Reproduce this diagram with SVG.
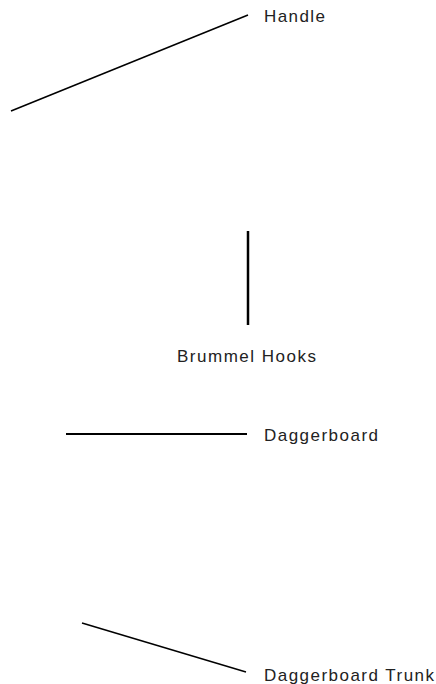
<svg xmlns="http://www.w3.org/2000/svg" width="436" height="684" viewBox="0 0 436 684">
<style>
text{font-family:"Liberation Sans",Arial,sans-serif;font-size:17px;fill:#222}
line{stroke:#000}
</style>
<rect width="436" height="684" fill="#fff"/>
<g id="connectors">
<line x1="11" y1="111" x2="248" y2="15" stroke-width="1.5"/>
<line x1="248" y1="231" x2="248" y2="325" stroke-width="2.5"/>
<line x1="66" y1="434" x2="247" y2="434" stroke-width="2"/>
<line x1="82" y1="623" x2="246" y2="672" stroke-width="1.5"/>
</g>
<g id="handle"><text x="264" y="22" textLength="61" lengthAdjust="spacing">Handle</text></g>
<g id="brummel-hooks"><text x="177" y="362" textLength="139" lengthAdjust="spacing">Brummel Hooks</text></g>
<g id="daggerboard"><text x="264" y="441" textLength="114" lengthAdjust="spacing">Daggerboard</text></g>
<g id="daggerboard-trunk"><text x="264" y="681" textLength="170" lengthAdjust="spacing">Daggerboard Trunk</text></g>
</svg>
